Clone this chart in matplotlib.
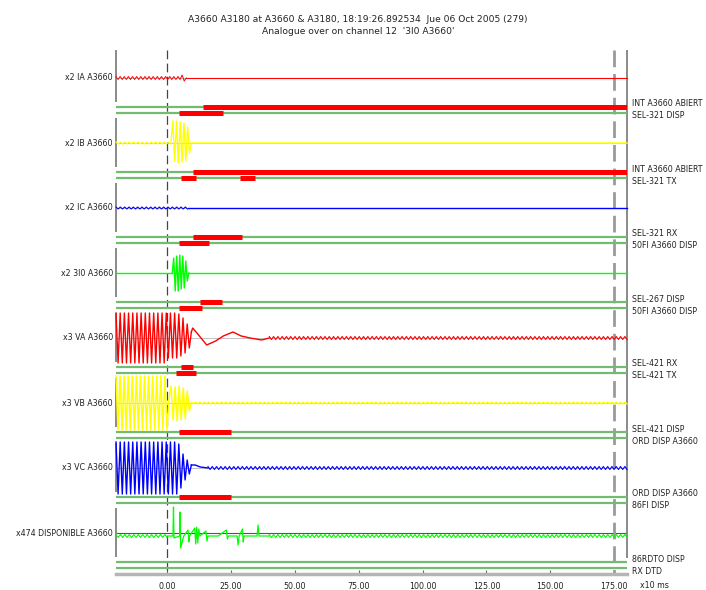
import numpy as np
import matplotlib
matplotlib.use("Agg")
import matplotlib.pyplot as plt

# ---------------- data ----------------
title_line1 = "A3660 A3180 at A3660 & A3180, 18:19:26.892534  Jue 06 Oct 2005 (279)"
title_line2 = "Analogue over on channel 12  '3I0 A3660'"

tick_values = [0, 25, 50, 75, 100, 125, 150, 175]
tick_labels = ["0.00", "25.00", "50.00", "75.00", "100.00", "125.00", "150.00", "175.00"]
x_unit_label = "x10 ms"
t_min, t_max = -20, 180
cursor_a, cursor_b = 0, 175

analog_labels = ["x2 IA A3660", "x2 IB A3660", "x2 IC A3660", "x2 3I0 A3660",
                 "x3 VA A3660", "x3 VB A3660", "x3 VC A3660", "x474 DISPONIBLE A3660"]
analog_colors = ["#ff0000", "#ffff00", "#0000ff", "#00ff00",
                 "#ff0000", "#ffff00", "#0000ff", "#00ff00"]

digital_labels = ["INT A3660 ABIERT", "SEL-321 DISP",
                  "INT A3660 ABIERT", "SEL-321 TX",
                  "SEL-321 RX", "50FI A3660 DISP",
                  "SEL-267 DISP", "50FI A3660 DISP",
                  "SEL-421 RX", "SEL-421 TX",
                  "SEL-421 DISP", "ORD DISP A3660",
                  "ORD DISP A3660", "86FI DISP",
                  "86RDTO DISP", "RX DTD"]
# active (red) intervals of the digital channels
dig_chan = [0, 1, 2, 3, 3, 4, 5, 6, 7, 8, 9, 10, 12]
dig_start = [14, 4.7, 10, 5.5, 28.5, 10, 4.7, 13, 4.7, 5.5, 3.5, 4.5, 4.5]
dig_end = [180, 22, 180, 11.5, 34.5, 29.5, 16.5, 21.5, 13.5, 10, 11.5, 25, 25]

# analog traces: peak values (px-like units, + is up) read from the record
IA_pre = [1.5, -1.5] * 16 + [3, -3, 0]
IB_pre = [1, -1] * 13
IB_burst = [0, 22, -18, 22, -20, 21, -19, 20, -18, 16, -10, 0]
IC_pre = [1, -1] * 17
IN_burst = [0, 15, -18, 17, -18, 18, -16, 17, -15, 12, -8, 0]
VA_burst = [25, -25] * 12 + [25, -20, 25, -20, 25, -20, 24, -18, 20, -15, 14, -10, 6]
VA_ring_t = [9.5, 10, 12, 15.5, 19, 22, 25.8, 29, 32.5, 37, 40]
VA_ring_v = [6, 10, 4, -7, -3, 2, 6, 2, 0, -2, 0]
VA_tail = [1.5, -1.5] * 84
VB_burst = [27, -27] * 13 + [4, 17, -17, 16, -18, 17, -17, 15, -16, 12, -8, 0]
VB_tail = [0.9, -0.9] * 102
VC_burst = [26, -26] * 15 + [24, -20, 14, -12, 8, -6, 3]
VC_ring_t = [9.5, 11, 13, 16]
VC_ring_v = [3, 3, 1, 0]
VC_tail = [1.5, -1.5] * 98
X_pre = [-1.5, -4.5] * 12
X_event_t = [0, 2.3, 2.5, 2.7, 4.9, 5.1, 5.3, 6.5, 8.2, 8.5, 8.8, 10.8, 11.2, 11.6, 12.0,
             12.4, 12.8, 15.2, 15.6, 16.0, 20, 23.2, 23.6, 24, 27.4, 27.8, 28.2, 29.5,
             29.8, 30.1, 35.2, 35.6, 36, 40]
X_event_v = [-3, -3, 26, -5, -3, 21, -15, -3, 3, -9, -3, 5, -11, 6, -10, 4, -3, 2, -8,
             -3, -3, 3, -6, -3, -3, -12, -3, 4, -9, -3, -3, 8, -3, -3]
X_tail = [-1.5, -4.5] * 84

# ---------------- figure ----------------
W, H = 706, 590
fig = plt.figure(figsize=(W / 100, H / 100), dpi=100)
ax = fig.add_axes([116 / W, (H - 574) / H, (627 - 116) / W, (574 - 50) / H])
ax.set_xlim(t_min, t_max)
ax.set_ylim(524, 0)

ROW = 65
analog_y = [28 + ROW * k for k in range(8)]
pair_y = [60 + ROW * k for k in range(8)]
OFF = 2.8
dig_y = []
for p in pair_y:
    dig_y += [p - OFF, p + OFF]

FS = 5.7
TXT = "#222222"

# vertical frame lines (left broken at each digital pair)
for k in range(8):
    y0 = 0 if k == 0 else pair_y[k - 1] + 8
    y1 = pair_y[k] - 8
    ax.plot([t_min, t_min], [y0, y1], color="#8a8a8a", lw=1.4, solid_capstyle="butt", clip_on=False)
ax.plot([t_max, t_max], [0, pair_y[-1] - 7], color="#8a8a8a", lw=1.4, solid_capstyle="butt", clip_on=False)
ax.plot([cursor_b, cursor_b], [0, 524], color="#9a9a9a", lw=2.0, dashes=(6, 2.5), clip_on=False)
ax.plot([cursor_a, cursor_a], [0, 524], color="#444444", lw=0.9, dashes=(7, 3.5), clip_on=False)

# analog baselines and labels
for k, (y, lab) in enumerate(zip(analog_y, analog_labels)):
    base_col = "#555555" if k == 7 else "#aaaaaa"
    ax.plot([t_min, t_max], [y, y], color=base_col, lw=0.8 if k == 7 else 0.5, zorder=1)
    ax.text(t_min - 1.2, y, lab, ha="right", va="center", fontsize=FS, color=TXT)


def draw(k, t, v, lw=0.8):
    ax.plot(t, analog_y[k] - np.asarray(v, float), color=analog_colors[k], lw=lw,
            zorder=3, clip_on=False)


def seg(k, t0, t1, peaks, lw=0.8):
    draw(k, np.linspace(t0, t1, len(peaks)), peaks, lw)


# IA
seg(0, -20, 7.5, IA_pre, lw=0.7)
draw(0, [7.5, 180], [0, 0])
# IB
seg(1, -20, 1.5, IB_pre, lw=0.9)
seg(1, 1.5, 9.5, IB_burst, lw=1.0)
draw(1, [9.5, 180], [0, 0], lw=1.1)
# IC
seg(2, -20, 8, IC_pre)
draw(2, [8, 180], [0, 0], lw=1.0)
# 3I0
draw(3, [-20, 2], [0, 0], lw=1.0)
seg(3, 2, 8.5, IN_burst, lw=1.0)
draw(3, [8.5, 180], [0, 0], lw=1.0)
# VA
seg(4, -20, 9.5, VA_burst, lw=1.0)
draw(4, VA_ring_t, VA_ring_v, lw=1.0)
seg(4, 40, 180, VA_tail)
# VB
seg(5, -20, 9.5, VB_burst, lw=1.1)
seg(5, 9.5, 180, VB_tail, lw=1.0)
# VC
seg(6, -20, 9.5, VC_burst, lw=1.0)
draw(6, VC_ring_t, VC_ring_v, lw=1.0)
seg(6, 16, 180, VC_tail)
# x474
seg(7, -20, 0, X_pre)
draw(7, X_event_t, X_event_v, lw=0.9)
seg(7, 40, 180, X_tail)

# digital channels
for i, y in enumerate(dig_y):
    ax.plot([t_min, t_max], [y, y], color="#72bc72", lw=1.6, solid_capstyle="butt", zorder=2)
for c, s, e in zip(dig_chan, dig_start, dig_end):
    ax.plot([s, e], [dig_y[c], dig_y[c]], color="#ff0000", lw=3.6, solid_capstyle="butt", zorder=4)
for p, pos in enumerate(pair_y):
    ax.text(t_max + 2, pos - 6, digital_labels[2 * p], ha="left", va="center", fontsize=FS, color=TXT)
    ax.text(t_max + 2, pos + 6, digital_labels[2 * p + 1], ha="left", va="center", fontsize=FS, color=TXT)

# axes styling
for s in ["top", "left", "right"]:
    ax.spines[s].set_visible(False)
ax.spines["bottom"].set_color("#b5b5b5")
ax.spines["bottom"].set_linewidth(2.5)
ax.set_yticks([])
ax.set_xticks(tick_values)
ax.set_xticklabels(tick_labels, fontsize=FS, color=TXT)
ax.tick_params(axis="x", direction="in", length=3, width=0.8, color="#666666", pad=6)
fig.text(640 / W, 1 - 586 / H, x_unit_label, ha="left", va="center", fontsize=FS, color=TXT)

fig.text(358 / W, 1 - 20 / H, title_line1, ha="center", va="center", fontsize=6.6, color=TXT)
fig.text(358 / W, 1 - 31 / H, title_line2, ha="center", va="center", fontsize=6.6, color=TXT)

fig.savefig("out.png", dpi=100)
